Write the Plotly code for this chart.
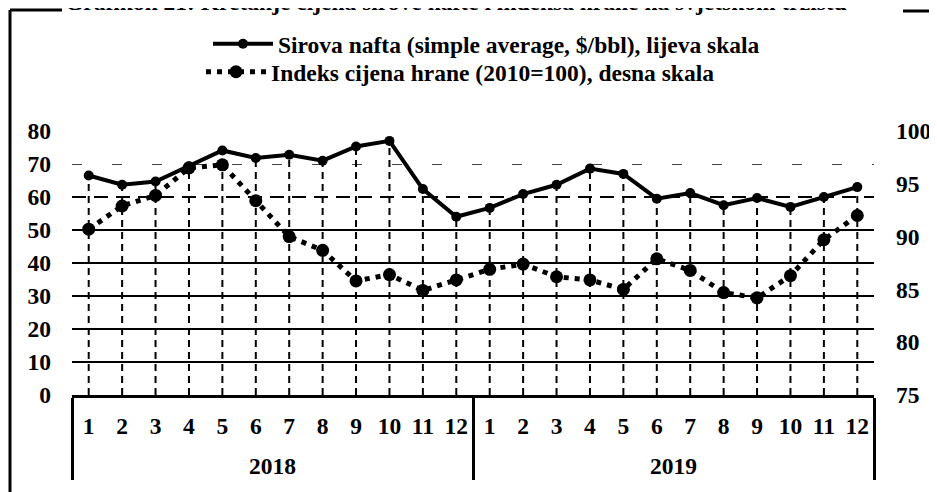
import plotly.graph_objects as go

# ---- data ----
years = ["2018"] * 12 + ["2019"] * 12
months = ["1", "2", "3", "4", "5", "6", "7", "8", "9", "10", "11", "12",
          "1", "2", "3", "4", "5", "6", "7", "8", "9", "10", "11", "12"]
oil = [66.5, 63.7, 64.7, 69.3, 74.1, 71.8, 72.8, 71.0, 75.3, 77.0, 62.4, 54.0,
       56.7, 60.9, 63.7, 68.6, 67.0, 59.5, 61.2, 57.5, 59.7, 57.0, 60.0, 63.0]
food = [90.7, 92.9, 93.9, 96.5, 96.8, 93.4, 90.0, 88.7, 85.8, 86.4, 84.9, 85.9,
        86.9, 87.4, 86.2, 85.9, 85.0, 87.9, 86.8, 84.7, 84.2, 86.3, 89.7, 92.0]
left_ticks = [0, 10, 20, 30, 40, 50, 60, 70, 80]
right_ticks = [75, 80, 85, 90, 95, 100]
grid_solid = [10, 20, 30, 40, 50]
grid_dash = [60]
grid_faint = [70]

oil_name = "Sirova nafta (simple average, $/bbl), lijeva skala"
food_name = "Indeks cijena hrane (2010=100), desna skala"
title = "Grafikon 21: Kretanje cijena sirove nafte i indeksa hrane na svjetskom tržištu"

FONT = "Liberation Serif"
FS = 23.5
W, H = 937, 492
OFF = 8  # page body margin

# month labels with a little invisible padding below (pushes year row down)
month_lbl = [m + "<br><sup>\u00a0</sup>" for m in months]
xcat = [years, month_lbl]

# drop lines built from the data
drop_x0, drop_x1, drop_y = [], [], []
for yr, m, v in zip(years, month_lbl, oil):
    drop_x0 += [yr, yr, yr]
    drop_x1 += [m, m, m]
    drop_y += [0, v, None]

fig = go.Figure()
fig.add_trace(go.Scatter(x=[drop_x0, drop_x1], y=drop_y, mode="lines",
                         line=dict(color="black", width=2, dash="7px,5px"),
                         yaxis="y3", showlegend=False, hoverinfo="skip"))
fig.add_trace(go.Scatter(x=xcat, y=oil, name=oil_name,
                         mode="lines+markers", legend="legend",
                         line=dict(color="black", width=4),
                         marker=dict(color="black", size=10)))
fig.add_trace(go.Scatter(x=xcat, y=food, name=food_name,
                         mode="lines+markers", yaxis="y2", legend="legend2",
                         line=dict(color="black", width=5, dash="5px,6px"),
                         marker=dict(color="black", size=13)))
fig.add_trace(go.Scatter(x=[[years[0]], [month_lbl[0]]], y=[None], yaxis="y4",
                         showlegend=False, hoverinfo="skip"))
fig.add_trace(go.Scatter(x=[[years[0]], [month_lbl[0]]], y=[None], yaxis="y5",
                         showlegend=False, hoverinfo="skip"))

cx = lambda p: (p - OFF) / W
cy = lambda p: 1 - (p - OFF) / H
leg_common = dict(xref="container", yref="container", xanchor="left", yanchor="top",
                  bgcolor="rgba(0,0,0,0)", font=dict(size=FS, family=FONT, weight="bold"),
                  itemwidth=60, tracegroupgap=0)

fig.update_layout(
    width=W, height=H,
    margin=dict(l=72 - OFF, r=W - (874 - OFF), t=131 - OFF, b=H - (395 - OFF),
                autoexpand=False),
    paper_bgcolor="white", plot_bgcolor="white",
    font=dict(family=FONT, size=FS, color="black", weight="bold"),
    showlegend=True,
    legend=dict(x=cx(208), y=cy(22), **leg_common),
    legend2=dict(x=cx(201), y=cy(50), **leg_common),
    xaxis=dict(type="multicategory", range=[-0.5, 23.5], showline=True,
               linecolor="black", linewidth=3, tickangle=0,
               showgrid=False, ticks="", showdividers=True, dividercolor="black",
               dividerwidth=3, tickfont=dict(size=FS), automargin=False,
               ticklabelstandoff=8),
    yaxis=dict(range=[0, 80], tickmode="array", tickvals=left_ticks, showgrid=False,
               zeroline=False, ticks="", ticklabelstandoff=20, showline=False,
               automargin=False),
    yaxis2=dict(range=[75, 100], tickmode="array", tickvals=right_ticks, overlaying="y",
                side="right", showgrid=False, zeroline=False, ticks="",
                ticklabelstandoff=21, showline=False, automargin=False),
    yaxis3=dict(range=[0, 80], tickmode="array", tickvals=grid_solid, overlaying="y",
                anchor="x", showgrid=True, gridcolor="black", gridwidth=2,
                showticklabels=False, zeroline=False, ticks="", automargin=False),
    yaxis4=dict(range=[0, 80], tickmode="array", tickvals=grid_dash, overlaying="y",
                anchor="x", showgrid=True, gridcolor="black", gridwidth=1.5,
                griddash="14px,8px", showticklabels=False, zeroline=False, ticks="",
                automargin=False),
    yaxis5=dict(range=[0, 80], tickmode="array", tickvals=grid_faint, overlaying="y",
                anchor="x", showgrid=True, gridcolor="#444", gridwidth=1.2,
                griddash="10px,30px", showticklabels=False, zeroline=False, ticks="",
                automargin=False),
)

px = lambda v: (v - 72) / 802
py = lambda v: (395 - v) / 264

# title (cut off at the top edge, as in the reference)
fig.add_annotation(text=title, xref="paper", yref="paper", x=px(456), y=py(2),
                   xanchor="center", yanchor="middle", showarrow=False,
                   font=dict(size=FS, family=FONT, weight="bold"))

# outer frame fragments
fig.add_shape(type="line", xref="paper", yref="paper", x0=px(10), x1=px(10),
              y0=py(10), y1=py(520), line=dict(color="black", width=3))
fig.add_shape(type="line", xref="paper", yref="paper", x0=px(10), x1=px(62),
              y0=py(10), y1=py(10), line=dict(color="black", width=3))
fig.add_shape(type="line", xref="paper", yref="paper", x0=px(903), x1=px(960),
              y0=py(11), y1=py(11), line=dict(color="black", width=3))

fig.write_html("out.html")
